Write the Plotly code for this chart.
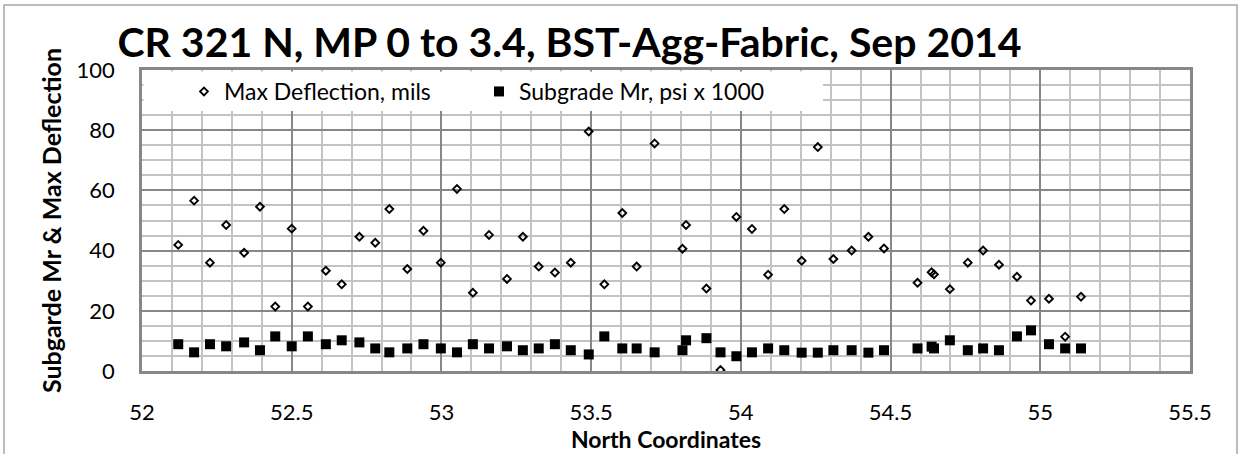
import plotly.graph_objects as go

# Station positions (north coordinates) shared by both series
north = [52.121, 52.174, 52.227, 52.281, 52.341, 52.394, 52.445, 52.500, 52.554, 52.614,
         52.667, 52.726, 52.779, 52.826, 52.886, 52.940, 52.998, 53.052, 53.105, 53.159,
         53.219, 53.272, 53.325, 53.379, 53.432, 53.492, 53.544, 53.604, 53.652, 53.712,
         53.805, 53.817, 53.885, 53.932, 53.985, 54.037, 54.091, 54.145, 54.203, 54.257,
         54.309, 54.370, 54.426, 54.478, 54.590, 54.637, 54.645, 54.698, 54.758, 54.809,
         54.862, 54.922, 54.969, 55.029, 55.083, 55.136]

max_deflection = [41.9, 56.6, 36.0, 48.5, 39.3, 54.6, 21.4, 47.3, 21.4, 33.3,
                  28.8, 44.6, 42.6, 53.8, 33.9, 46.6, 36.0, 60.5, 26.0, 45.2,
                  30.6, 44.6, 34.7, 32.7, 36.0, 79.6, 28.8, 52.5, 34.7, 75.6,
                  40.6, 48.5, 27.4, 0.3, 51.2, 47.2, 32.0, 53.8, 36.6, 74.4,
                  37.2, 40.0, 44.6, 40.7, 29.3, 32.8, 32.1, 27.2, 36.0, 40.0,
                  35.3, 31.3, 23.4, 24.0, 11.4, 24.7]

subgrade_mr = [8.9, 6.2, 8.9, 8.2, 9.5, 6.9, 11.5, 8.2, 11.5, 8.9,
               10.2, 9.5, 7.5, 6.2, 7.5, 8.9, 7.5, 6.2, 8.9, 7.5,
               8.2, 6.9, 7.5, 8.9, 6.9, 5.5, 11.5, 7.5, 7.5, 6.2,
               6.9, 10.2, 10.9, 6.2, 4.9, 6.2, 7.5, 6.9, 6.1, 6.1,
               6.9, 6.9, 6.1, 6.9, 7.5, 8.1, 7.5, 10.2, 6.9, 7.5,
               6.9, 11.5, 13.5, 8.9, 7.5, 7.5]

FONT = "Lato"
MAJOR = "#878787"
MINOR = "#c3c3c3"

fig = go.Figure()
fig.add_trace(go.Scatter(
    x=north, y=max_deflection, mode="markers", name="Max Deflection, mils",
    marker=dict(symbol="diamond-open", size=6, color="black", line=dict(width=1.9, color="black")),
))
fig.add_trace(go.Scatter(
    x=north, y=subgrade_mr, mode="markers", name="Subgrade Mr, psi x 1000",
    marker=dict(symbol="square", size=10, color="black"),
))

W, H = 1239, 454
L, R, T, B = 142, 49, 70, 83
pw, ph = W - L - R, H - T - B

def px_x(p):
    return (p - L) / pw

def px_y(p):
    return (H - B - p) / ph

shapes = [
    # white backdrop behind the legend row (no data reaches this band)
    dict(type="rect", xref="paper", yref="paper", layer="above",
         x0=px_x(143.5), x1=px_x(823), y0=px_y(111), y1=px_y(71.5),
         fillcolor="white", line=dict(width=0)),
    # outer chart frame
    dict(type="rect", xref="paper", yref="paper", layer="below",
         x0=px_x(4), x1=px_x(1237), y0=px_y(470), y1=px_y(5),
         fillcolor="rgba(0,0,0,0)", line=dict(width=1.5, color="#a6a6a6")),
]

fig.update_layout(
    width=W, height=H,
    margin=dict(l=L, r=R, t=T, b=B, autoexpand=False),
    paper_bgcolor="white", plot_bgcolor="white",
    font=dict(family=FONT, color="black"),
    title=dict(text="<b>CR 321 N, MP 0 to 3.4, BST-Agg-Fabric, Sep 2014</b>",
               font=dict(family=FONT, size=41, color="black"),
               x=569.5 / W, xanchor="center", xref="container",
               y=1 - 43 / H, yanchor="middle", yref="container"),
    showlegend=True,
    legend=dict(orientation="h", x=px_x(184), y=1, xanchor="left", yanchor="top",
                bgcolor="rgba(0,0,0,0)", font=dict(family=FONT, size=23, color="black"),
                entrywidth=250, entrywidthmode="pixels", itemsizing="trace"),
    shapes=shapes,
)

fig.update_xaxes(
    range=[52, 55.5], dtick=0.5, tick0=52,
    showgrid=True, gridcolor=MAJOR, gridwidth=1.5,
    minor=dict(dtick=0.1, showgrid=True, gridcolor=MINOR, gridwidth=1.5),
    showline=True, linecolor=MAJOR, linewidth=2.5, mirror=True,
    zeroline=False,
    ticks="outside", ticklen=20, tickcolor="rgba(0,0,0,0)",
    tickfont=dict(family=FONT, size=22, color="black"),
    title=dict(text="<b>North Coordinates</b>", font=dict(family=FONT, size=23, color="black"),
               standoff=2),
)
fig.update_yaxes(
    range=[0, 100], dtick=20, tick0=0,
    showgrid=True, gridcolor=MAJOR, gridwidth=1.5,
    minor=dict(dtick=5, showgrid=True, gridcolor=MINOR, gridwidth=1.5),
    showline=True, linecolor=MAJOR, linewidth=2.5, mirror=True,
    zeroline=False,
    ticks="outside", ticklen=20, tickcolor="rgba(0,0,0,0)",
    tickfont=dict(family=FONT, size=22, color="black"),
    title=dict(text="<b>Subgarde Mr &amp; Max Deflection</b>", font=dict(family=FONT, size=25, color="black"),
               standoff=8),
)

fig.write_html("out.html")
